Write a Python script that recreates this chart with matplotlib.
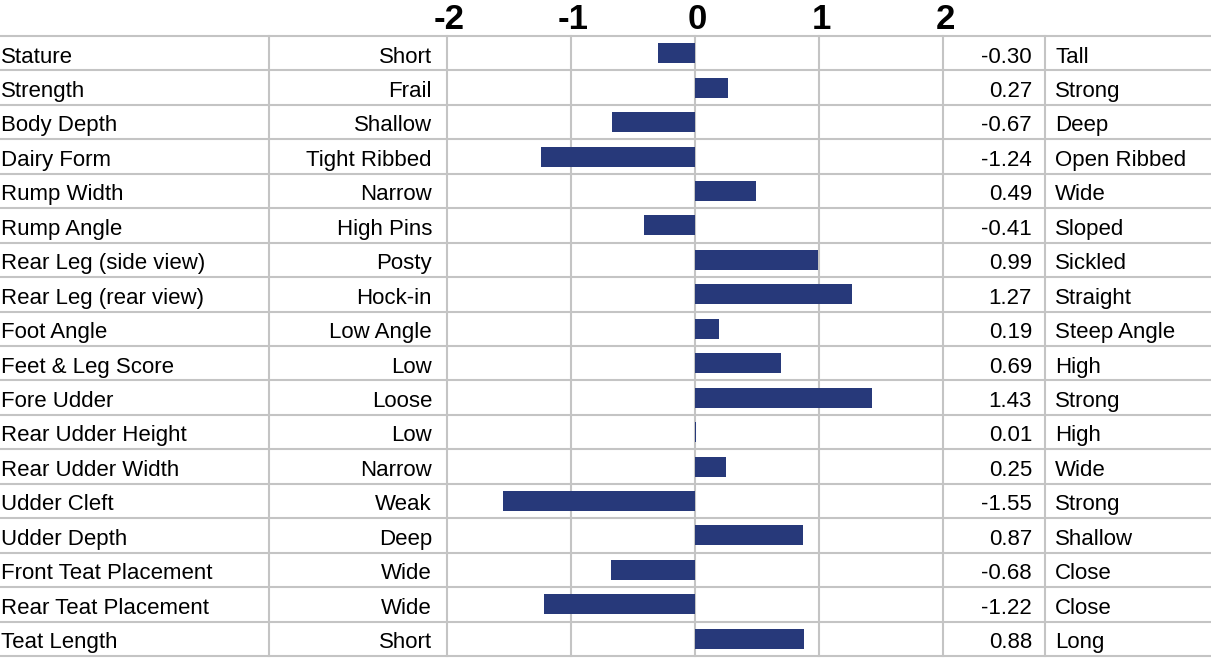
import matplotlib
matplotlib.use("Agg")
import matplotlib.pyplot as plt
import matplotlib.transforms as mtransforms

traits = ["Stature", "Strength", "Body Depth", "Dairy Form", "Rump Width", "Rump Angle",
          "Rear Leg (side view)", "Rear Leg (rear view)", "Foot Angle", "Feet & Leg Score",
          "Fore Udder", "Rear Udder Height", "Rear Udder Width", "Udder Cleft", "Udder Depth",
          "Front Teat Placement", "Rear Teat Placement", "Teat Length"]
low_labels = ["Short", "Frail", "Shallow", "Tight Ribbed", "Narrow", "High Pins", "Posty",
              "Hock-in", "Low Angle", "Low", "Loose", "Low", "Narrow", "Weak", "Deep",
              "Wide", "Wide", "Short"]
high_labels = ["Tall", "Strong", "Deep", "Open Ribbed", "Wide", "Sloped", "Sickled",
               "Straight", "Steep Angle", "High", "Strong", "High", "Wide", "Strong",
               "Shallow", "Close", "Close", "Long"]
values = [-0.30, 0.27, -0.67, -1.24, 0.49, -0.41, 0.99, 1.27, 0.19, 0.69, 1.43, 0.01,
          0.25, -1.55, 0.87, -0.68, -1.22, 0.88]
ticks = [-2, -1, 0, 1, 2]

W, H = 1211, 662
fig = plt.figure(figsize=(W / 100, H / 100), dpi=100)
plt.rcParams['font.family'] = ['Liberation Sans', 'DejaVu Sans']

x0, x1 = 447, 943
ytop, ybot = 36, 656
ax = fig.add_axes([x0 / W, (H - ybot) / H, (x1 - x0) / W, (ybot - ytop) / H])
n = len(traits)
ax.set_xlim(-2, 2)
ax.set_ylim(n, 0)
for s in ax.spines.values():
    s.set_visible(False)
ax.set_yticks([])
ax.xaxis.tick_top()
ax.set_xticks(ticks)
ax.set_xticklabels([str(t) for t in ticks], fontsize=25, fontweight='bold')
ax.tick_params(axis='x', length=0, pad=0)
for lbl in ax.get_xticklabels():
    lbl.set_transform(lbl.get_transform() + mtransforms.ScaledTranslation(2 / 100, 0, fig.dpi_scale_trans))

grid_color = '#c4c4c4'
lw = 1.5
bt = mtransforms.blended_transform_factory(fig.transFigure, ax.transData)

# horizontal lines
for i in range(n + 1):
    ax.plot([0, 1], [i, i], transform=bt, color=grid_color, lw=lw, clip_on=False, zorder=1)
# vertical lines
for px in [269, 1045]:
    ax.plot([px / W, px / W], [0, n], transform=bt, color=grid_color, lw=lw, clip_on=False, zorder=1)
for t in ticks:
    ax.plot([t, t], [0, n], color=grid_color, lw=lw, clip_on=False, zorder=1)

ys = [i + 0.5 for i in range(n)]
ax.barh(ys, values, height=0.58, color='#27397a', zorder=3)

fs = 16
for i in range(n):
    y = i + 0.77
    ax.text(1 / W, y, traits[i], transform=bt, ha='left', va='baseline', fontsize=fs)
    ax.text(432 / W, y, low_labels[i], transform=bt, ha='right', va='baseline', fontsize=fs)
    ax.text(1032 / W, y, f"{values[i]:.2f}", transform=bt, ha='right', va='baseline', fontsize=fs)
    ax.text(1055 / W, y, high_labels[i], transform=bt, ha='left', va='baseline', fontsize=fs)

fig.savefig("out.png", dpi=100)
